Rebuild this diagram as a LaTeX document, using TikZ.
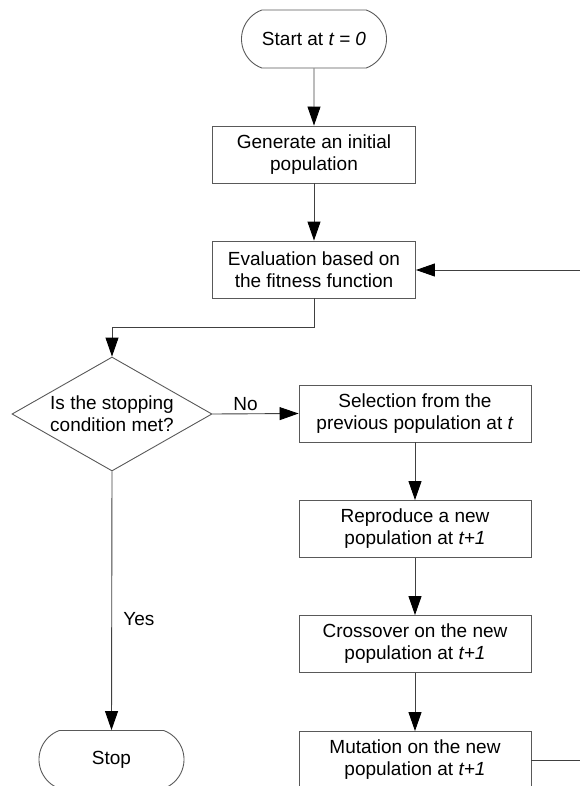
\documentclass[tikz,border=0pt]{standalone}
\usepackage{fontspec}
\setmainfont{Liberation Sans}
\usetikzlibrary{arrows.meta,shapes.geometric,shapes.misc}

\begin{document}
\begin{tikzpicture}[x=1bp,y=-1bp,
  every node/.style={font=\fontsize{19bp}{22bp}\selectfont, align=center},
  box/.style={draw=black!65, line width=0.9bp, rectangle, inner sep=0pt,
    minimum height=57bp},
  narrowbox/.style={box, minimum width=203bp},
  widebox/.style={box, minimum width=232bp},
  terminal/.style={draw=black!65, line width=0.9bp, rounded rectangle,
    rounded rectangle arc length=140, inner sep=0pt,
    minimum width=145bp, minimum height=58bp},
  decision/.style={draw=black!65, line width=0.9bp, diamond, inner sep=0pt,
    minimum width=200bp, minimum height=114bp},
  link/.style={draw=black!75, line width=0.9bp},
  arrow/.style={link, -{Triangle[length=19bp,width=13bp,color=black]}},
  tag/.style={inner sep=3bp}
]
\useasboundingbox (0,0) rectangle (580,786);
\clip (0,0) rectangle (580,786);

% main column
\node[terminal] (start) at (314,39) {Start at \textit{t = 0}};
\node[narrowbox] (gen) at (314,154.5) {Generate an initial\\population};
\node[narrowbox] (eval) at (314,269.5) {Evaluation based on\\the fitness function};

% decision
\node[decision] (dec) at (112,414) {};
\node (dectext) at (dec.center) {Is the stopping\\condition met?};
\node[terminal] (stop) at (111.5,759.5) {Stop};

% genetic operators
\node[widebox] (sel) at (415,413.5) {Selection from the\\previous population at \textit{t}};
\node[widebox] (rep) at (415,529) {Reproduce a new\\population at \textit{t+1}};
\node[widebox] (cross) at (415,644) {Crossover on the new\\population at \textit{t+1}};
\node[widebox] (mut) at (415,760) {Mutation on the new\\population at \textit{t+1}};

% loop ends running off to the right
\coordinate (mutout) at (580,760);
\coordinate (evalin) at (580,270);

% connectors
\draw[arrow] (start) -- (gen);
\draw[arrow] (gen) -- (eval);
\draw[arrow] (eval.south) -- ++(0,29) -| (dec.north);
\draw[arrow] (dec.east) -- node[pos=0.385, above, tag] {No} (sel.west);
\draw[arrow] (dec.south) -- node[pos=0.57, right=8bp] {Yes} (stop.north);
\draw[arrow] (sel) -- (rep);
\draw[arrow] (rep) -- (cross);
\draw[arrow] (cross) -- (mut);
\draw[link] (mut.east) -- (mutout);
\draw[arrow] (evalin) -- (eval.east |- evalin);
\end{tikzpicture}
\end{document}
